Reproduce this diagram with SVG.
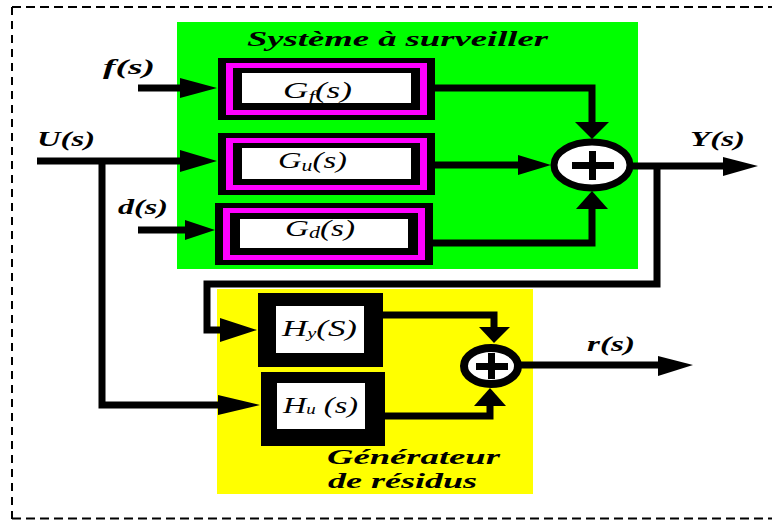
<svg xmlns="http://www.w3.org/2000/svg" width="772" height="520" viewBox="0 0 772 520">
<style>
text{font-family:'Liberation Serif','Times New Roman','DejaVu Serif',serif}
.lbl{font-style:italic;font-weight:bold;font-size:20px;fill:#000}
.blk{font-style:italic;font-size:24px;fill:#000}
.dash{stroke:#000;stroke-width:2;fill:none}
.wire{stroke:#000;stroke-width:7;fill:none;stroke-linejoin:miter}
.arr{fill:#000}
.k{fill:#000}
.m{fill:#ff00ff}
.w{fill:#fff}
.sum{fill:#fff;stroke:#000}
</style>
<rect width="772" height="520" fill="#fff"/>
<g id="frame">
<line class="dash" x1="12" y1="7" x2="772" y2="7" stroke-dasharray="9 5"/>
<line class="dash" x1="12" y1="7" x2="12" y2="519" stroke-dasharray="8 6"/>
<line class="dash" x1="12" y1="518.5" x2="772" y2="518.5" stroke-dasharray="9 5"/>
</g>
<g id="systeme">
<rect x="177" y="22" width="461" height="247" fill="#00ff00"/>
<text class="lbl" x="247" y="46" font-size="22" textLength="301" lengthAdjust="spacingAndGlyphs">Système à surveiller</text>
</g>
<g id="generateur">
<rect x="217" y="289" width="316" height="205" fill="#ffff00"/>
<text class="lbl" x="327" y="464" textLength="173" lengthAdjust="spacingAndGlyphs">Générateur</text>
<text class="lbl" x="328" y="488" textLength="149" lengthAdjust="spacingAndGlyphs">de résidus</text>
</g>
<g id="Gf">
<rect class="k" x="218" y="58" width="217" height="62"/>
<rect class="m" x="226" y="63" width="201" height="52"/>
<rect class="k" x="233" y="68" width="187" height="42"/>
<rect class="w" x="242" y="73" width="169" height="30"/>
<text class="blk" x="283" y="98" textLength="69" lengthAdjust="spacingAndGlyphs">G<tspan font-size="16" dy="4">f</tspan><tspan dy="-4">(s)</tspan></text>
</g>
<g id="Gu">
<rect class="k" x="218" y="133" width="217" height="62"/>
<rect class="m" x="226" y="138" width="201" height="52"/>
<rect class="k" x="233" y="143" width="187" height="42"/>
<rect class="w" x="242" y="148" width="169" height="31"/>
<text class="blk" x="278" y="168" textLength="69" lengthAdjust="spacingAndGlyphs">G<tspan font-size="16" dy="3">u</tspan><tspan dy="-3">(s)</tspan></text>
</g>
<g id="Gd">
<rect class="k" x="215" y="203" width="218" height="62"/>
<rect class="m" x="223" y="208" width="202" height="52"/>
<rect class="k" x="230" y="213" width="188" height="42"/>
<rect class="w" x="240" y="219" width="168" height="29"/>
<text class="blk" x="285" y="236" textLength="70" lengthAdjust="spacingAndGlyphs">G<tspan font-size="16" dy="2">d</tspan><tspan dy="-2">(s)</tspan></text>
</g>
<g id="sum1">
<ellipse class="sum" cx="592" cy="165" rx="38" ry="23" stroke-width="7"/>
<rect class="k" x="572" y="162" width="42" height="7"/>
<rect class="k" x="589" y="151" width="7" height="29"/>
</g>
<g id="Hy">
<rect class="k" x="258" y="293" width="125" height="74"/>
<rect class="w" x="276" y="306" width="88" height="47"/>
<text class="blk" x="282" y="336" font-size="22" textLength="75" lengthAdjust="spacingAndGlyphs">H<tspan font-size="14" dy="2">y</tspan><tspan dy="-2">(S)</tspan></text>
</g>
<g id="Hu">
<rect class="k" x="261" y="372" width="124" height="74"/>
<rect class="w" x="277" y="383" width="88" height="46"/>
<text class="blk" x="283" y="413" font-size="22" textLength="75" lengthAdjust="spacingAndGlyphs">H<tspan font-size="14" dy="1">u</tspan><tspan dy="-1"> (s)</tspan></text>
</g>
<g id="sum2">
<ellipse class="sum" cx="491" cy="366" rx="27" ry="18" stroke-width="8"/>
<rect class="k" x="476" y="363" width="32" height="7"/>
<rect class="k" x="488" y="353" width="7" height="26"/>
</g>
<g id="labels">
<text class="lbl" x="103" y="74" textLength="52" lengthAdjust="spacingAndGlyphs">f(s)</text>
<text class="lbl" x="37" y="146" textLength="58" lengthAdjust="spacingAndGlyphs">U(s)</text>
<text class="lbl" x="118" y="214" textLength="50" lengthAdjust="spacingAndGlyphs">d(s)</text>
<text class="lbl" x="690" y="146" textLength="55" lengthAdjust="spacingAndGlyphs">Y(s)</text>
<text class="lbl" x="587" y="351" textLength="48" lengthAdjust="spacingAndGlyphs">r(s)</text>
</g>
<g id="connectors">
<line class="wire" x1="138" y1="88" x2="182" y2="88" stroke-width="8"/>
<polygon class="arr" points="180,78 217,88 180,98"/>
<line class="wire" x1="37" y1="161" x2="182" y2="161" stroke-width="8"/>
<polygon class="arr" points="180,150 217,161 180,172"/>
<polyline class="wire" points="102,161 102,405 220,405" stroke-width="8"/>
<polygon class="arr" points="218,395 260,405 218,415"/>
<line class="wire" x1="138" y1="230" x2="187" y2="230" stroke-width="8"/>
<polygon class="arr" points="185,220 215,230 185,240"/>
<polyline class="wire" points="435,88 592,88 592,124"/>
<polygon class="arr" points="575,122 592,139 609,122"/>
<line class="wire" x1="435" y1="165" x2="520" y2="165"/>
<polygon class="arr" points="518,155 551,165 518,175"/>
<polyline class="wire" points="433,243 592,243 592,207"/>
<polygon class="arr" points="576,209 592,191 608,209"/>
<line class="wire" x1="632" y1="166" x2="725" y2="166"/>
<polygon class="arr" points="723,157 758,166 723,176"/>
<polyline class="wire" points="657,166 657,284 207,284 207,330 222,330" stroke-width="6"/>
<polygon class="arr" points="220,318 257,330 220,342"/>
<polyline class="wire" points="383,315 494,315 494,329"/>
<polygon class="arr" points="479,327 494,343 510,327"/>
<polyline class="wire" points="385,416 490,416 490,405"/>
<polygon class="arr" points="474,406 490,388 506,406"/>
<line class="wire" x1="520" y1="365" x2="660" y2="365"/>
<polygon class="arr" points="658,356 693,365 658,376"/>
</g>
</svg>
